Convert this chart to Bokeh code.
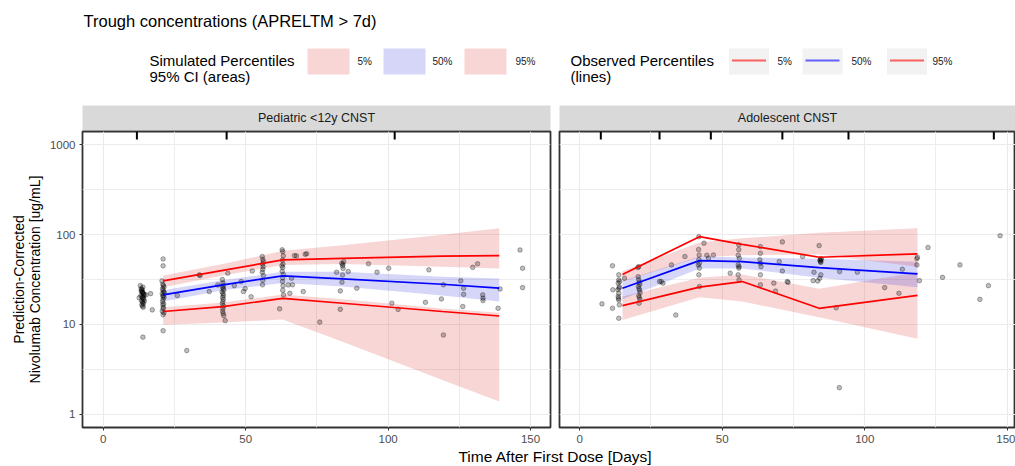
from bokeh.plotting import figure
from bokeh.layouts import column, row
from bokeh.models import Range1d, FixedTicker, PrintfTickFormatter
from bokeh.core.properties import value
from bokeh.embed import file_html
from bokeh.resources import INLINE

FONT = "Liberation Sans"

# ---------------- data ----------------
title_text = "Trough concentrations (APRELTM > 7d)"
panel_names = ["Pediatric <12y CNST", "Adolescent CNST"]
x_label = "Time After First Dose [Days]"
y_label = "Prediction-Corrected\nNivolumab Concentration [ug/mL]"
x_ticks = [0, 50, 100, 150]
x_minor = [25, 75, 125]
y_ticks = [1, 10, 100, 1000]
y_minor = [3.162, 31.62, 316.2]

# Panel 1 : Pediatric <12y CNST
t1 = [21, 42, 63, 84, 119, 139]
obs_p05_1 = [13.9, 15.8, 19.5, 17.2, 13.9, 12.4]
obs_p50_1 = [21.3, 27.6, 34.7, 32.2, 28.0, 25.3]
obs_p95_1 = [30.5, 40.0, 52.4, 54.5, 57.5, 58.5]
sim_p05_lo1 = [9.9, 10.5, 11.3, 6.4, 2.4, 1.38]
sim_p05_hi1 = [15.5, 17.5, 21.5, 19.0, 15.0, 13.5]
sim_p50_lo1 = [18, 24, 29, 26.5, 21, 18]
sim_p50_hi1 = [24, 31, 38.5, 38.5, 34, 32.5]
sim_p95_lo1 = [26, 35, 46, 47, 44, 42]
sim_p95_hi1 = [35, 47, 66, 76, 100, 118]
rug_1 = [11.8, 43.3, 102.3]

pts_t1 = [13.0, 13.3, 13.5, 13.7, 13.9, 14.1, 14.3, 13.2, 13.6, 13.8, 14.0, 14.2, 13.4, 13.7, 13.9,
          14.1, 13.5, 13.8, 14.0, 13.3, 13.6, 14.2, 13.9, 14.4, 13.7, 16.6, 17.2, 13.9, 15.0, 12.6,
          20.6, 20.9, 21.1, 21.3, 20.8, 21.0, 21.2, 20.7, 21.1, 20.9, 21.3, 21.0, 20.8, 21.2, 20.9,
          21.1, 21.0, 20.7, 21.3, 21.0, 21.0, 21.0, 21.0, 21.4,
          26, 29.3, 33.7, 37.2, 40.2, 43.7, 42.8, 34.0,
          41.8, 42.0, 42.2, 41.9, 42.1, 42.3, 41.7, 42.0, 42.2, 41.9, 42.1, 42.0, 41.8, 42.2, 42.0,
          41.9, 42.1, 42.3,
          48.4, 49.2, 49.8, 51.9, 52.3, 61.9, 46,
          55.8, 56.0, 56.2, 55.9, 56.1, 56.0, 55.8, 56.2, 56.0, 55.9,
          62.8, 63.0, 63.2, 62.9, 63.1, 63.0, 62.8, 63.2, 63.0, 62.9, 63.1, 63.0, 63.3, 62.7,
          64.9, 65.5, 66.1, 67.1, 70.9, 70.2, 66.4, 67.8, 71.4, 76, 81.9, 83.7, 84.0, 84.2, 84.0,
          84.1, 83.8, 83.2, 83.2, 86, 89, 93.1, 96.1, 100.2, 101.3, 103.5, 84.4,
          113.1, 114.3, 118.7, 119.4, 119.4, 125.5, 126.5, 126.5, 126.2, 129.7, 131.4, 133.2,
          133.3, 133.3, 138.6, 139.3, 146.3, 147.2, 147.2]
pts_c1 = [27, 25, 24, 23, 22.5, 22, 21.5, 21, 20.5, 20, 19.5, 19, 18.5, 18, 17.5,
          17, 16.5, 16, 15.5, 23.5, 24.5, 20.8, 26, 18.2, 22.8, 22, 14.5, 7.2, 21.3, 19.8,
          30.5, 28, 27, 26, 25, 24, 23, 22, 21, 20.5, 20, 19, 18, 17, 16.5,
          15.5, 15, 14, 13.5, 12.8, 53.6, 44.9, 8.5, 22.5,
          21, 5.1, 35.6, 23.2, 27.5, 37.2, 11.0, 35,
          31.5, 29, 27, 26, 25, 24, 23, 22, 21, 20, 19, 18, 17, 16, 15,
          14, 13.2, 12.5,
          30, 23.2, 25, 20.3, 39.3, 14.9, 27,
          57, 53, 50, 47, 44, 41, 38, 35, 31, 27.6,
          67.8, 64.7, 58, 52, 47, 43, 39, 36, 33, 30, 27, 24, 21.3, 45,
          27.5, 22.2, 32.7, 58.4, 60.4, 23.2, 27.6, 58, 61.3, 10.6, 38.1, 48, 45, 42, 35.5,
          47, 29.5, 23.6, 14.7, 38.8, 25.3, 47.3, 38.2, 42.2, 17.2, 14.7, 50,
          17.6, 40.5, 19.2, 7.6, 27.6, 30.6, 25.3, 21.6, 15.8, 43.2, 47.3, 21.3,
          19.6, 18.4, 15.1, 24.8, 67.5, 42.2, 25.7]

# Panel 2 : Adolescent CNST
t2 = [15, 42, 57, 84, 118.5]
obs_p05_2 = [16.2, 26, 30, 15.1, 21]
obs_p50_2 = [25.3, 51.3, 50, 43, 36.5]
obs_p95_2 = [36, 95, 78, 56, 61]
sim_p05_lo2 = [11.2, 20, 18, 12, 6.9]
sim_p05_hi2 = [20.4, 33, 36, 25, 38]
sim_p50_lo2 = [19, 42, 42, 33, 26]
sim_p50_hi2 = [30.6, 57, 55.5, 54, 50]
sim_p95_lo2 = [30, 56, 59, 60, 44]
sim_p95_hi2 = [39, 82, 91, 105, 118]
rug_2 = [7.4, 28.0, 46.0, 71.1, 94.3, 145.3]

pts_t2 = [11.5, 13.7, 13.7, 13.5, 13.9, 13.4, 13.7, 14.0, 13.5, 13.7, 13.9, 11.6, 11.5, 7.8, 13.7,
          15.7, 13.6, 13.8,
          20.5, 20.7, 20.9, 21.1, 20.6, 20.8, 21.0, 21.2, 20.7, 20.9, 21.1, 20.8, 20.7, 20.4,
          28, 29.2, 32.2, 33.7, 36.9, 28.6,
          41.8, 43.6, 41.7, 41.9, 41.8, 42.0, 41.6, 42.0, 41.8, 42.0, 46.9, 45.2, 44.6,
          55.8, 55.8, 55.6, 56.0, 55.6, 55.9, 55.8, 55.6, 55.9, 52.8,
          63.4, 63.4, 63.2, 63.4, 63.6, 63.4, 63.4, 68.7, 71.1, 71.1, 70.0, 78.2, 68.1, 72.8, 73.1,
          84.0, 84.6, 84.4, 84.5, 84.6, 84.3, 84.8, 82.2, 84.6, 84.2, 81.9, 83.5,
          90, 91.2, 91.1, 97.4, 107, 112, 113.2, 118.3, 118.3, 119.2, 118.5, 122.2, 127.3, 133.4,
          140.4, 143.4, 147.5]
pts_c2 = [45, 35.7, 31.3, 28.8, 26.2, 24.3, 22.1, 30, 20.4, 18.7, 16.5, 24.3, 15.1, 16.9, 11.7,
          32.7, 19.5, 25.3,
          34, 31.5, 29.5, 28, 26.5, 25, 24, 22.5, 21, 20, 19, 17.2, 44, 43,
          30, 28.8, 46, 12.7, 57, 30,
          95, 80.4, 68.2, 59.3, 52.5, 48, 46, 42.4, 35.7, 26.4, 59.3, 54.6, 59,
          77, 68, 59, 54.6, 46, 44, 42.4, 35.7, 31.3, 37.2,
          73.7, 62, 52.5, 48, 44, 35.7, 27.6, 23.5, 83, 39.3, 50, 57, 28.8, 30, 29.4,
          75.5, 54, 52, 50, 49, 51.5, 53, 38.1, 35.7, 32.6, 30.7, 30.5,
          15.3, 38.8, 1.97, 38.2, 25.7, 22.2, 41.1, 53.9, 46, 30.7, 55.8, 71.9, 33.4, 46,
          19.0, 27, 97.3]

legend_sim_title = ["Simulated Percentiles", "95% CI (areas)"]
legend_obs_title = ["Observed Percentiles", "(lines)"]
legend_labels = ["5%", "50%", "95%"]

# ---------------- styles ----------------
RED_FILL = "#DD3333"
BLUE_FILL = "#3333DD"
BAND_ALPHA = 0.2
GRID = "#EBEBEB"
Y_LO, Y_HI = 0.708, 1413
P_H = 316


def make_panel(width, left, right, xr, show_y):
    p = figure(width=width, height=P_H, y_axis_type="log",
               x_range=Range1d(*xr), y_range=Range1d(Y_LO, Y_HI),
               output_backend="svg", toolbar_location=None,
               min_border_left=left, min_border_right=right,
               min_border_top=1, min_border_bottom=19)
    p.outline_line_color = "#333333"
    p.outline_line_width = 1.8
    p.background_fill_color = "white"
    p.border_fill_color = "white"
    p.xaxis.ticker = FixedTicker(ticks=x_ticks, minor_ticks=x_minor)
    p.yaxis.ticker = FixedTicker(ticks=y_ticks, minor_ticks=y_minor)
    p.xgrid.ticker = FixedTicker(ticks=x_ticks, minor_ticks=x_minor)
    p.ygrid.ticker = FixedTicker(ticks=y_ticks, minor_ticks=y_minor)
    p.yaxis.formatter = PrintfTickFormatter(format="%d")
    for g in (p.xgrid, p.ygrid):
        g.grid_line_color = GRID
        g.grid_line_width = 1.1
        g.minor_grid_line_color = GRID
        g.minor_grid_line_width = 0.9
    for ax in (p.xaxis, p.yaxis):
        ax.axis_line_color = None
        ax.major_tick_line_color = "#333333"
        ax.major_tick_out = 3
        ax.major_tick_in = 0
        ax.minor_tick_line_color = None
        ax.major_label_text_font = FONT
        ax.major_label_text_font_size = "11.5px"
        ax.major_label_text_color = "#4D4D4D"
        ax.major_label_standoff = 3
    if show_y:
        p.yaxis.axis_label = y_label
        p.yaxis.axis_label_text_font = FONT
        p.yaxis.axis_label_text_font_size = "14px"
        p.yaxis.axis_label_text_font_style = "normal"
        p.yaxis.axis_label_text_color = "black"
        p.yaxis.axis_label_text_line_height = 1.0
        p.yaxis.axis_label_standoff = 4
    else:
        p.yaxis.visible = False
    return p


def fill_panel(p, t, bands, obs, pts_t, pts_c, rug):
    (lo05, hi05), (lo50, hi50), (lo95, hi95) = bands
    p.varea(x=t, y1=lo05, y2=hi05, fill_color=RED_FILL, fill_alpha=BAND_ALPHA)
    p.varea(x=t, y1=lo50, y2=hi50, fill_color=BLUE_FILL, fill_alpha=BAND_ALPHA)
    p.varea(x=t, y1=lo95, y2=hi95, fill_color=RED_FILL, fill_alpha=BAND_ALPHA)
    p.scatter(pts_t, pts_c, size=4.6, fill_color="black", fill_alpha=0.25,
              line_color="black", line_alpha=0.38, line_width=0.8)
    p05, p50, p95 = obs
    p.line(t, p05, line_color="red", line_width=1.7)
    p.line(t, p50, line_color="blue", line_width=1.7)
    p.line(t, p95, line_color="red", line_width=1.7)
    top = [Y_HI] * len(rug)
    bot = [Y_HI / 1.23] * len(rug)
    p.segment(x0=rug, y0=top, x1=rug, y1=bot, line_color="black", line_width=2)


def make_strip(width, left, right, name):
    s = figure(width=width, height=25, x_range=Range1d(0, 1), y_range=Range1d(0, 1),
               output_backend="svg", toolbar_location=None,
               x_axis_location=None, y_axis_location=None,
               min_border_left=left, min_border_right=right,
               min_border_top=0, min_border_bottom=0)
    s.grid.visible = False
    s.outline_line_color = None
    s.background_fill_color = "#D9D9D9"
    s.border_fill_color = "white"
    s.text(x=[0.5], y=[0.5], text=[name], text_align="center", text_baseline="middle",
           text_font=value(FONT), text_font_size="12.5px", text_color="#1A1A1A")
    return s


W1, W2 = 554, 461
p1 = make_panel(W1, 82, 4, (-7.3, 157.0), True)
fill_panel(p1, t1,
           [(sim_p05_lo1, sim_p05_hi1), (sim_p50_lo1, sim_p50_hi1), (sim_p95_lo1, sim_p95_hi1)],
           (obs_p05_1, obs_p50_1, obs_p95_1), pts_t1, pts_c1, rug_1)
p2 = make_panel(W2, 5, 0, (-7.1, 152.9), False)
fill_panel(p2, t2,
           [(sim_p05_lo2, sim_p05_hi2), (sim_p50_lo2, sim_p50_hi2), (sim_p95_lo2, sim_p95_hi2)],
           (obs_p05_2, obs_p50_2, obs_p95_2), pts_t2, pts_c2, rug_2)

s1 = make_strip(W1, 82, 4, panel_names[0])
s2 = make_strip(W2, 5, 0, panel_names[1])

# ---------------- header (title + legends) ----------------
HW, HH = 1015, 105
h = figure(width=HW, height=HH, x_range=Range1d(0, HW), y_range=Range1d(HH, 0),
           output_backend="svg", toolbar_location=None,
           x_axis_location=None, y_axis_location=None, min_border=0)
h.grid.visible = False
h.outline_line_color = None
h.text(x=[83], y=[20], text=[title_text], text_font=value(FONT), text_font_size="16.5px",
       text_baseline="middle", text_color="black")
h.text(x=[149, 149], y=[60, 76], text=legend_sim_title, text_font=value(FONT),
       text_font_size="15px", text_baseline="middle", text_color="black")
h.rect(x=[328, 404, 485], y=[61, 61, 61], width=42, height=26,
       fill_color=[RED_FILL, BLUE_FILL, RED_FILL], fill_alpha=BAND_ALPHA, line_color=None)
h.text(x=[357, 432, 515], y=[61, 61, 61], text=legend_labels, text_font=value(FONT),
       text_font_size="10px", text_baseline="middle", text_color="#1A1A1A")
h.text(x=[570, 570], y=[60, 76], text=legend_obs_title, text_font=value(FONT),
       text_font_size="15px", text_baseline="middle", text_color="black")
kx = [748.5, 822, 906.5]
h.rect(x=kx, y=[61, 61, 61], width=40, height=26, fill_color="#F2F2F2", line_color=None)
h.segment(x0=[k - 17 for k in kx], y0=[60, 60, 60], x1=[k + 17 for k in kx], y1=[60, 60, 60],
          line_color=["red", "blue", "red"], line_width=2, line_alpha=0.6)
h.text(x=[777, 851, 932], y=[61, 61, 61], text=legend_labels, text_font=value(FONT),
       text_font_size="10px", text_baseline="middle", text_color="#1A1A1A")

# ---------------- footer (x-axis title) ----------------
FH = 20
f = figure(width=HW, height=FH, x_range=Range1d(0, HW), y_range=Range1d(FH, 0),
           output_backend="svg", toolbar_location=None,
           x_axis_location=None, y_axis_location=None, min_border=0)
f.grid.visible = False
f.outline_line_color = None
f.text(x=[555], y=[10], text=[x_label], text_font=value(FONT),
       text_font_size="15.5px", text_align="center", text_baseline="middle", text_color="black")

layout = column(h, row(column(s1, p1), column(s2, p2)), f)
open("out.html", "w").write(file_html(layout, INLINE))
